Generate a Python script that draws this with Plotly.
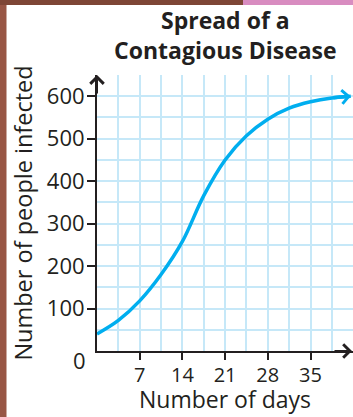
import plotly.graph_objects as go

# ---- data ----
days = [0, 3.5, 7, 10.5, 14, 17.5, 21, 24.5, 28, 31.5, 35, 38.5, 41.6]
infected = [40, 72, 118, 180, 258, 366, 450, 507, 546, 572, 587, 596, 600]
x_tickvals = [7, 14, 21, 28, 35]
y_tickvals = [100, 200, 300, 400, 500, 600]

title_text = "Spread of a<br>Contagious Disease"
x_title = "Number of days"
y_title = "Number of people infected"

INK = "#231f20"
CURVE = "#00aeef"
GRID = "#c6e8f8"
FONT = "Open Sans"

W, H = 353, 417
ML, MR, MT, MB = 97, 0, 75, 66
PW, PH = W - ML - MR, H - MT - MB


def px_x(p):
    return (p - ML) / PW


def px_y(p):
    return (H - MB - p) / PH


fig = go.Figure()
fig.add_trace(go.Scatter(
    x=days, y=infected, mode="lines",
    line=dict(color=CURVE, width=3.5, shape="spline", smoothing=1),
    hoverinfo="skip", showlegend=False, cliponaxis=False,
))

annotations = [
    # title
    dict(x=0.5, y=px_y(2), xref="paper", yref="paper", text="<b>" + title_text + "</b>",
         showarrow=False, xanchor="center", yanchor="top",
         font=dict(family=FONT, size=23, color=INK)),
    # x axis title
    dict(x=0.5, y=px_y(H), xref="paper", yref="paper", text=x_title,
         showarrow=False, xanchor="center", yanchor="bottom",
         font=dict(family=FONT, size=23, color=INK)),
    # curve end arrow
    dict(x=days[-1], y=infected[-1], ax=days[-2], ay=infected[-2],
         xref="x", yref="y", axref="x", ayref="y", text="",
         showarrow=True, arrowhead=4, arrowsize=0.75, arrowwidth=3.5,
         arrowcolor=CURVE),
    # y axis arrow
    dict(x=0, y=1, xref="paper", yref="paper", ax=0, ay=20, text="",
         showarrow=True, arrowhead=4, arrowsize=1.3, arrowwidth=2,
         arrowcolor=INK),
    # x axis arrow
    dict(x=1, y=0, xref="paper", yref="paper", ax=-20, ay=0, text="",
         showarrow=True, arrowhead=4, arrowsize=1.3, arrowwidth=2,
         arrowcolor=INK),
    # zero label
    dict(x=0, y=0, xref="paper", yref="y", text="0", showarrow=False,
         xanchor="right", yanchor="middle", xshift=-9, yshift=-9,
         font=dict(family=FONT, size=22, color=INK)),
]

shapes = [
    dict(type="rect", xref="paper", yref="paper", x0=px_x(0), x1=px_x(6.5),
         y0=px_y(H), y1=px_y(0), fillcolor="#985645", line=dict(width=0),
         layer="above"),
    dict(type="rect", xref="paper", yref="paper", x0=px_x(0), x1=px_x(243),
         y0=px_y(5), y1=px_y(0), fillcolor="#7e4636", line=dict(width=0),
         layer="above"),
    dict(type="rect", xref="paper", yref="paper", x0=px_x(243), x1=px_x(W),
         y0=px_y(5), y1=px_y(0), fillcolor="#d88cc0", line=dict(width=0),
         layer="above"),
]

fig.update_layout(
    width=W, height=H,
    margin=dict(l=ML, r=MR, t=MT, b=MB, pad=0),
    paper_bgcolor="white", plot_bgcolor="white",
    font=dict(family=FONT, color=INK),
    annotations=annotations, shapes=shapes, showlegend=False,
)

fig.update_xaxes(
    range=[0, PW / 6.1], tickvals=x_tickvals, ticks="outside", ticklen=7,
    tickwidth=2, tickcolor=INK, showline=True, linewidth=2, linecolor=INK,
    showgrid=True, gridcolor=GRID, gridwidth=2, zeroline=False,
    minor=dict(dtick=3.5, tick0=0, showgrid=True, gridcolor=GRID, gridwidth=2),
    tickfont=dict(family=FONT, size=20, color=INK), ticklabelstandoff=-2,
    fixedrange=True,
)
fig.update_yaxes(
    range=[0, 650], tickvals=y_tickvals, ticks="outside", ticklen=8,
    tickwidth=2, tickcolor=INK, showline=True, linewidth=2, linecolor=INK,
    showgrid=True, gridcolor=GRID, gridwidth=2, zeroline=False,
    minor=dict(dtick=50, tick0=0, showgrid=True, gridcolor=GRID, gridwidth=2),
    tickfont=dict(family=FONT, size=22, color=INK), ticklabelstandoff=-2,
    title=dict(text=y_title, font=dict(family=FONT, size=23.5, color=INK),
               standoff=8),
    fixedrange=True,
)

fig.write_html("out.html", config=dict(displayModeBar=False),
               post_script="document.body.style.margin='0';")
